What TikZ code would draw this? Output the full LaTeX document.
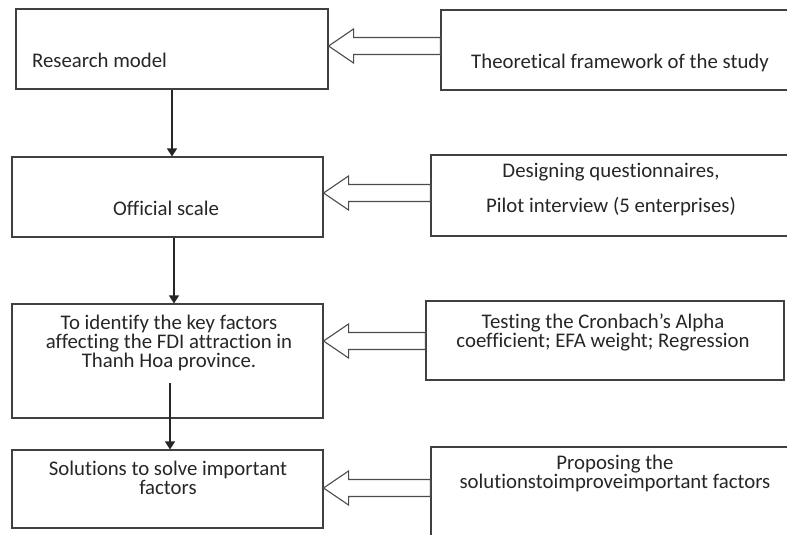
\documentclass[tikz,border=0pt]{standalone}
\usepackage{fontspec}
\setmainfont{Carlito}[Ligatures=NoCommon]
\usetikzlibrary{arrows.meta,calc}
\tikzset{
    box/.style={draw=black!75,rectangle,line width=1.1pt,inner sep=0pt},
    txt/.style={text=black!85,font=\fontsize{20.8}{19}\selectfont,align=center,inner sep=0pt},
    flow/.style={-{Triangle[length=8pt,width=10pt]},line width=1.2pt,black!85},
    hollow/.style={draw=black!70,line width=1.1pt,fill=white,line join=miter}
}
\begin{document}
\begin{tikzpicture}
                [x=1pt,y=-1pt]
                \useasboundingbox (0,0) rectangle (787,535);
                \clip (0,0) rectangle (787,535);
                \node[box,minimum width=312pt,minimum height=80pt] (b1) at (172,49) {};
                \node[box,minimum width=311pt,minimum height=80pt] (b2) at (167.5,197) {};
                \node[box,minimum width=311pt,minimum height=114pt] (b3) at (167.5,361) {};
                \node[box,minimum width=311pt,minimum height=78pt] (b4) at (167.5,489) {};

                \node[box,minimum width=359pt,minimum height=80pt] (r1) at (620.5,50) {};
                \node[box,minimum width=369pt,minimum height=81pt] (r2) at (615.5,195.5) {};
                \node[box,minimum width=358pt,minimum height=79pt] (r3) at (605,340.5) {};
                \node[box,minimum width=369pt,minimum height=113pt] (r4) at (615.5,503.5) {};

                \node[txt,anchor=west] (t1) at (32,60) {Research model};
                \node[txt] (t2) at (166,208) {Official scale};
                \node[txt] (t3) at (169,343) {To identify the key factors\\affecting the FDI attraction in\\Thanh Hoa province.};
                \node[txt] (t4) at (168,477.5) {Solutions to solve important\\factors};

                \node[txt] (s1) at (620,63) {Theoretical framework of the study};
                \node[txt] (s2) at (611,189.5) {Designing questionnaires,\\[16pt]Pilot interview (5 enterprises)};
                \node[txt] (s3) at (603,332.5) {Testing the Cronbach's Alpha\\coefficient; EFA weight; Regression};
                \node[txt] (s4) at (615,473) {Proposing the\\solutionstoimproveimportant factors};

                \foreach \l/\r/\y in {b1/r1/46,b2/r2/193,b3/r3/341,b4/r4/488}
                {
                    \draw[hollow] (\l.east |- 0,\y) -- ++(25,-17) -- ++(0,8.5) coordinate (ha)
                        -- (ha -| \r.west) -- ++(0,17) coordinate (hb) -- (hb -| ha) -- ++(0,8.5) -- cycle;
                }

                \coordinate (k2) at ($(b2.south)+(6.5,0)$);
                \coordinate (k3) at (170,383);
                \draw[flow] (b1.south) -- (b1.south |- b2.north);
                \draw[flow] (k2) -- (k2 |- b3.north);
                \draw[flow] (k3) -- (k3 |- b4.north);
            \end{tikzpicture}
\end{document}
